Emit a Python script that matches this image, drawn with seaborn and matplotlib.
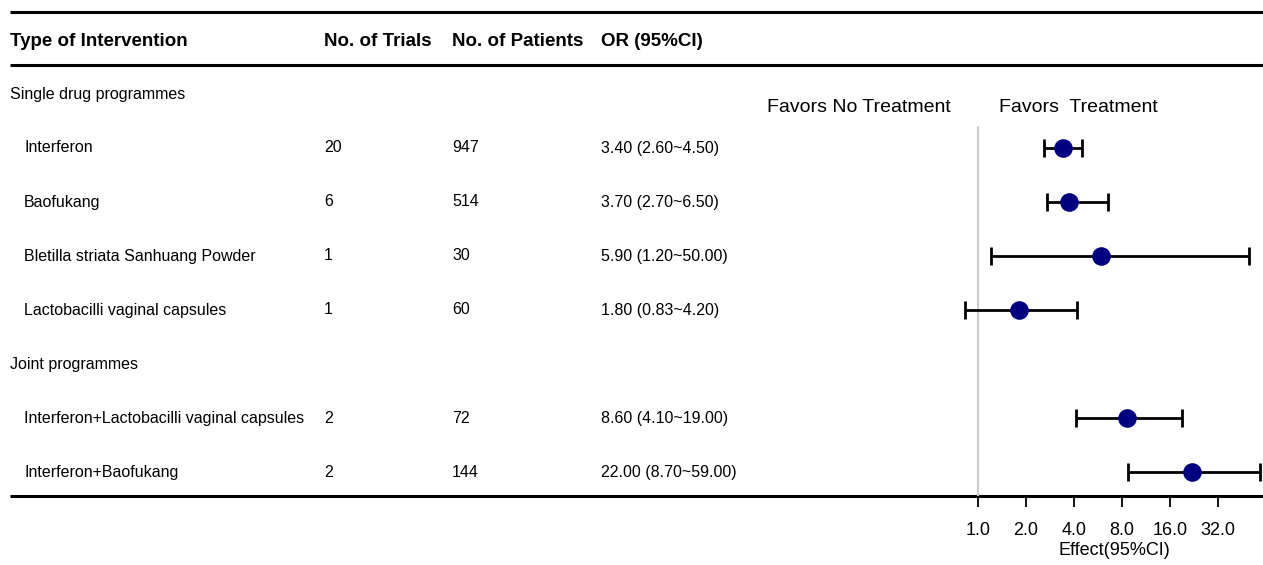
import numpy as np
import pandas as pd
import matplotlib
matplotlib.use("Agg")
import matplotlib.pyplot as plt
import seaborn as sns

# ---- data ----
groups = ["Single drug programmes", "Joint programmes"]
interventions = [
    "Interferon",
    "Baofukang",
    "Bletilla striata Sanhuang Powder",
    "Lactobacilli vaginal capsules",
    "Interferon+Lactobacilli vaginal capsules",
    "Interferon+Baofukang",
]
group_of = [0, 0, 0, 0, 1, 1]
n_trials = [20, 6, 1, 1, 2, 2]
n_patients = [947, 514, 30, 60, 72, 144]
odds_ratio = [3.40, 3.70, 5.90, 1.80, 8.60, 22.00]
ci_low = [2.60, 2.70, 1.20, 0.83, 4.10, 8.70]
ci_high = [4.50, 6.50, 50.00, 4.20, 19.00, 59.00]
tick_values = [1.0, 2.0, 4.0, 8.0, 16.0, 32.0]
headers = ["Type of Intervention", "No. of Trials", "No. of Patients", "OR (95%CI)"]

sns.set_style("white")
table_font = ["Liberation Sans Narrow", "Liberation Sans", "DejaVu Sans"]
plot_font = ["Liberation Sans", "DejaVu Sans"]
plt.rcParams["font.family"] = plot_font
plt.rcParams["text.color"] = "black"
plt.rcParams["axes.labelcolor"] = "black"
plt.rcParams["xtick.color"] = "black"

W, H = 1263, 565
fig = plt.figure(figsize=(W / 100, H / 100), dpi=100)

# row layout: header row is -1, then one line per group label / intervention
rows = []
r = 0
item_rows = []
for g, name in enumerate(groups):
    rows.append(("group", name, r))
    r += 1
    for i, gi in enumerate(group_of):
        if gi == g:
            item_rows.append(r)
            r += 1

PX0, PXSTEP = 94, 54  # pixel centre of row 0, row spacing


def px2row(p):
    return (p - PX0) / PXSTEP


# background table axes covering the whole figure
bg = fig.add_axes([0, 0, 1, 1])
bg.set_xlim(0, W)
bg.set_ylim(px2row(H), px2row(0))
bg.axis("off")

col_x = [10, 324, 452, 601]
for x, h in zip(col_x, headers):
    bg.text(x, -1 + 0.02, h, fontsize=13.5, fontweight="bold", va="center", ha="left",
            family=table_font)

for kind, name, rr in rows:
    bg.text(10, rr, name, fontsize=11.5, va="center", ha="left", family=table_font)

for i, rr in enumerate(item_rows):
    bg.text(24, rr, interventions[i], fontsize=11.5, va="center", family=table_font)
    bg.text(324, rr, str(n_trials[i]), fontsize=11.5, va="center", family=table_font)
    bg.text(452, rr, str(n_patients[i]), fontsize=11.5, va="center", family=table_font)
    bg.text(601, rr, f"{odds_ratio[i]:.2f} ({ci_low[i]:.2f}~{ci_high[i]:.2f})",
            fontsize=11.5, va="center", family=table_font)

for ypx in (12, 65, 496):
    bg.plot([10, W], [px2row(ypx)] * 2, color="black", lw=2.2, solid_capstyle="butt")

bg.text(859, px2row(107), "Favors No Treatment", fontsize=14, ha="center", va="center")
bg.text(1078, px2row(107), "Favors  Treatment", fontsize=14, ha="center", va="center")

# forest plot axes
fx0, fx1 = 940, 1263
fy0, fy1 = 12, 496
fa = fig.add_axes([fx0 / W, 1 - fy1 / H, (fx1 - fx0) / W, (fy1 - fy0) / H])
fa.patch.set_alpha(0)
xl0 = 0 - (978 - fx0) / 48.0
xl1 = (fx1 - 978) / 48.0
fa.set_xlim(xl0, xl1)
fa.set_ylim(px2row(fy1), px2row(fy0))

df = pd.DataFrame({
    "row": item_rows,
    "log_or": np.log2(odds_ratio),
    "lo": np.log2(ci_low),
    "hi": np.log2(ci_high),
})

fa.plot([0, 0], [px2row(127), px2row(fy1)], color="#cccccc", lw=1.5, zorder=1)
fa.errorbar(df["log_or"], df["row"],
            xerr=[df["log_or"] - df["lo"], df["hi"] - df["log_or"]],
            fmt="none", ecolor="black", elinewidth=2, capsize=6.5, capthick=2, zorder=2)
sns.scatterplot(data=df, x="log_or", y="row", ax=fa, color="#000080", s=180,
                edgecolor="#000080", linewidth=0, zorder=3, legend=False)

for s in fa.spines.values():
    s.set_visible(False)
fa.set_yticks([])
fa.set_xticks(np.log2(tick_values))
fa.set_xticklabels([f"{v:.1f}" for v in tick_values], fontsize=13)
fa.tick_params(axis="x", bottom=True, direction="out", length=8, width=1.3,
               pad=11, color="black", labelcolor="black")
fa.set_xlabel("Effect(95%CI)", fontsize=13, labelpad=2)
fa.xaxis.label.set_x((1114 - fx0) / (fx1 - fx0))
fa.set_ylabel("")

fig.savefig("out.png", dpi=100)
